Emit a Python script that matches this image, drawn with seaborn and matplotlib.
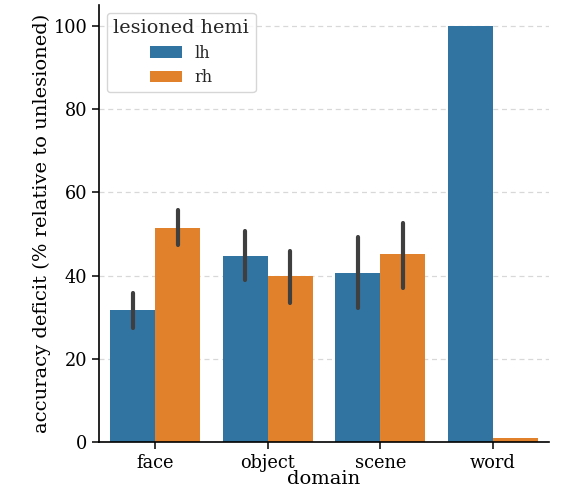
import matplotlib
matplotlib.use("Agg")
import matplotlib.pyplot as plt
import seaborn as sns
import pandas as pd

domains = ["face", "object", "scene", "word"]
hemis = ["lh", "rh"]
# bar heights (% accuracy deficit)
lh_mean = [31.6, 44.8, 40.6, 100.0]
rh_mean = [51.5, 40.0, 45.2, 1.0]
# error bar extents (low, high)
lh_low = [27.4, 39.0, 32.3, 100.0]
lh_high = [35.8, 50.7, 49.3, 100.0]
rh_low = [47.4, 33.5, 37.0, 1.0]
rh_high = [55.8, 45.8, 52.6, 1.0]

rows = []
for i, d in enumerate(domains):
    for h, m, lo, hi in (("lh", lh_mean, lh_low, lh_high), ("rh", rh_mean, rh_low, rh_high)):
        for v in (lo[i], m[i], hi[i]):
            rows.append({"domain": d, "lesioned hemi": h, "deficit": v})
df = pd.DataFrame(rows)

sns.set_style("ticks")
plt.rcParams["font.family"] = ["DejaVu Serif"]

fig = plt.figure(figsize=(5.66, 4.91), dpi=100)
ax = fig.add_axes([99 / 566, 49 / 491, 450 / 566, 437 / 491])
sns.barplot(data=df, x="domain", y="deficit", hue="lesioned hemi",
            order=domains, hue_order=hemis,
            estimator="median", errorbar=("pi", 100), ax=ax,
            linewidth=0, err_kws={"linewidth": 3.0, "color": "#3f3f3f"})
ax.set_ylim(0, 105)
ax.set_yticks([0, 20, 40, 60, 80, 100])
ax.yaxis.grid(True, linestyle=(0, (4, 3)), color="#d8d8d8", linewidth=0.9)
ax.set_axisbelow(True)
sns.despine(ax=ax)
for s in ("left", "bottom"):
    ax.spines[s].set_color("black")
    ax.spines[s].set_linewidth(1.2)
ax.tick_params(labelsize=12.8, colors="black", length=5, width=1.1)
ax.set_xlabel("domain", fontsize=14, color="black", labelpad=-1)
ax.set_ylabel("accuracy deficit (% relative to unlesioned)", fontsize=14,
              color="black", labelpad=2)
leg = ax.legend(title="lesioned hemi", loc="upper left", fontsize=11.5,
                title_fontsize=13.8, bbox_to_anchor=(0.0, 1.0),
                labelspacing=0.45)
fig.savefig("out.png", dpi=100)
